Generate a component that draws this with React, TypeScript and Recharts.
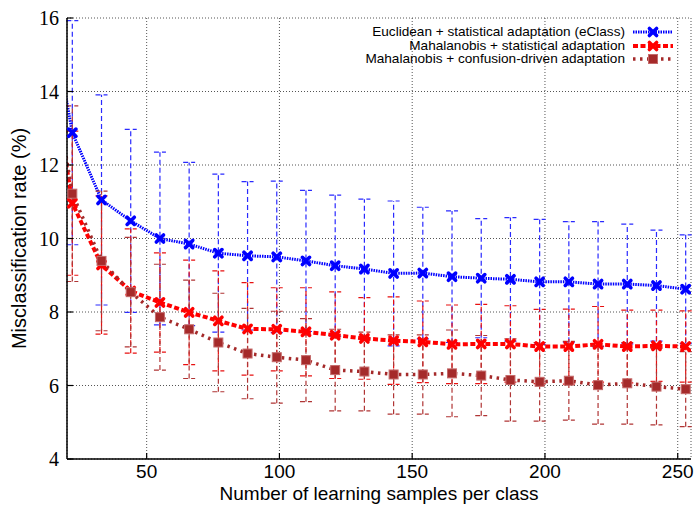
import React from 'react';
import { LineChart, Line, XAxis, YAxis, CartesianGrid, ErrorBar, Legend } from 'recharts';

const samples = [11, 22, 33, 44, 55, 66, 77, 88, 99, 110, 121, 132, 143, 154, 165, 176, 187, 198, 209, 220, 231, 242, 253];
const euclidRate = [17.3, 12.88, 11.05, 10.48, 10.0, 9.85, 9.6, 9.53, 9.5, 9.39, 9.26, 9.17, 9.05, 9.06, 8.96, 8.92, 8.89, 8.82, 8.82, 8.76, 8.76, 8.72, 8.62];
const euclidErr = [null, 3.05, 2.86, 2.49, 2.35, 2.22, 2.15, 2.02, 2.06, 1.92, 1.92, 1.9, 1.97, 1.79, 1.79, 1.62, 1.68, 1.7, 1.64, 1.7, 1.63, 1.51, 1.48];
const mahaStatRate = [16.1, 10.96, 9.28, 8.57, 8.26, 7.99, 7.76, 7.54, 7.53, 7.46, 7.37, 7.28, 7.22, 7.19, 7.12, 7.13, 7.13, 7.06, 7.06, 7.12, 7.06, 7.08, 7.06];
const mahaStatErr = [null, 1.96, 1.88, 1.69, 1.35, 1.42, 1.36, 1.26, 1.13, 1.2, 1.18, 1.11, 1.19, 1.11, 1.07, 1.08, 1.04, 1.01, 1.02, 1.03, 0.99, 0.97, 0.97];
const mahaConfRate = [16.0, 11.22, 9.39, 8.54, 7.86, 7.53, 7.17, 6.87, 6.77, 6.69, 6.42, 6.38, 6.3, 6.3, 6.33, 6.27, 6.15, 6.1, 6.13, 6.01, 6.06, 5.97, 5.9];
const mahaConfErr = [null, 2.39, 1.9, 1.49, 1.44, 1.34, 1.34, 1.23, 1.25, 1.13, 1.11, 1.07, 1.08, 1.08, 1.18, 1.09, 1.12, 1.07, 1.07, 1.06, 1.11, 1.04, 1.02];

const xTicks = [50, 100, 150, 200, 250];
const yTicks = [4, 6, 8, 10, 12, 14, 16];
const xDomain = [20, 255];
const yDomain = [4, 16];

const seriesNames = [
  'Euclidean + statistical adaptation (eClass)',
  'Mahalanobis + statistical adaptation',
  'Mahalanobis + confusion-driven adaptation',
];

const data = samples.map((s, i) => ({
  samples: s,
  euclid: euclidRate[i],
  euclidErr: euclidErr[i] ?? undefined,
  mahaStat: mahaStatRate[i],
  mahaStatErr: mahaStatErr[i] ?? undefined,
  mahaConf: mahaConfRate[i],
  mahaConfErr: mahaConfErr[i] ?? undefined,
}));

const BLUE = '#0000ff';
const RED = '#ff0000';
const BROWN = '#a52a2a';
const SANS = '"Liberation Sans", Arial, sans-serif';
const SERIF = '"Liberation Serif", "Times New Roman", serif';

const styles = {
  euclid: { color: BLUE, dash: '1.5 1', width: 3, marker: 'cross' },
  mahaStat: { color: RED, dash: '5 2.5', width: 4, marker: 'cross' },
  mahaConf: { color: BROWN, dash: '2.5 4.5', width: 3.5, marker: 'square' },
};

function Marker({ cx, cy, color, kind }: { cx: number; cy: number; color: string; kind: string }) {
  if (kind === 'square') {
    return <rect x={cx - 4.5} y={cy - 4.5} width={9} height={9} fill={color} stroke="#c46a6a" strokeWidth={1} />;
  }
  const r = 3.6;
  return (
    <g>
      <line x1={cx - r} y1={cy - r} x2={cx + r} y2={cy + r} stroke={color} strokeWidth={3.6} strokeLinecap="round" />
      <line x1={cx - r} y1={cy + r} x2={cx + r} y2={cy - r} stroke={color} strokeWidth={3.6} strokeLinecap="round" />
    </g>
  );
}

const makeDot = (color: string, kind: string) => (props: any) => {
  const { cx, cy, payload, index } = props;
  if (cx == null || cy == null || payload.samples < xDomain[0]) return <g key={`d-${index}`} />;
  return (
    <g key={`d-${index}`}>
      <Marker cx={cx} cy={cy} color={color} kind={kind} />
    </g>
  );
};

const renderLegend = () => {
  const keys = ['euclid', 'mahaStat', 'mahaConf'] as const;
  return (
    <div style={{ fontFamily: SANS, fontSize: 13.6, color: '#000' }}>
      {keys.map((k, i) => {
        const st = styles[k];
        return (
          <div key={k} style={{ display: 'flex', alignItems: 'center', justifyContent: 'flex-end', height: 13.8 }}>
            <span style={{ whiteSpace: 'nowrap', lineHeight: '13.6px' }}>{seriesNames[i]}</span>
            <svg width={40} height={14} style={{ marginLeft: 8, display: 'block' }}>
              <line x1={0} y1={7} x2={40} y2={7} stroke={st.color} strokeWidth={st.width} strokeDasharray={st.dash} />
              <Marker cx={20} cy={7} color={st.color} kind={st.marker} />
            </svg>
          </div>
        );
      })}
    </div>
  );
};

export default function App() {
  return (
    <div style={{ width: 696, height: 506, background: '#fff' }}>
      <style>{'body{margin:0;background:#fff}'}</style>
      <LineChart width={696} height={506} data={data} margin={{ top: 18, right: 5, bottom: 0, left: 0 }}>
        <CartesianGrid stroke="#555" strokeDasharray="1 2" strokeWidth={1} />
        <XAxis
          dataKey="samples"
          type="number"
          domain={xDomain}
          allowDataOverflow
          ticks={xTicks}
          interval={0}
          height={47}
          tickSize={-6}
          tickMargin={12}
          axisLine={{ stroke: '#000', strokeWidth: 1.5 }}
          tickLine={{ stroke: '#000', strokeWidth: 1.2 }}
          tick={{ fontFamily: SANS, fontSize: 19, fill: '#000' }}
          label={{ value: 'Number of learning samples per class', position: 'insideBottom', offset: 6, style: { fontFamily: SANS, fontSize: 19, fill: '#000' } }}
        />
        <XAxis
          xAxisId="top"
          orientation="top"
          dataKey="samples"
          type="number"
          domain={xDomain}
          allowDataOverflow
          ticks={xTicks}
          interval={0}
          height={0}
          tickSize={-6}
          tick={false}
          axisLine={{ stroke: '#000', strokeWidth: 1.5 }}
          tickLine={{ stroke: '#000', strokeWidth: 1.2 }}
        />
        <YAxis
          type="number"
          domain={yDomain}
          allowDataOverflow
          ticks={yTicks}
          interval={0}
          width={67}
          tickSize={-6}
          tickMargin={14}
          axisLine={{ stroke: '#000', strokeWidth: 1.5 }}
          tickLine={{ stroke: '#000', strokeWidth: 1.2 }}
          tick={{ fontFamily: SERIF, fontSize: 20, fill: '#000' }}
          label={{ value: 'Misclassification rate (%)', angle: -90, position: 'insideLeft', offset: 19, style: { fontFamily: SANS, fontSize: 20, fill: '#000', textAnchor: 'middle' } }}
        />
        <YAxis
          yAxisId="right"
          orientation="right"
          type="number"
          domain={yDomain}
          allowDataOverflow
          ticks={yTicks}
          interval={0}
          width={0}
          tickSize={-6}
          tick={false}
          axisLine={{ stroke: '#333', strokeWidth: 2.5 }}
          tickLine={{ stroke: '#000', strokeWidth: 1.2 }}
        />
        <Legend
          layout="vertical"
          align="center"
          verticalAlign="middle"
          content={renderLegend}
          wrapperStyle={{ position: 'absolute', top: 24.8, right: 23, left: 'auto', bottom: 'auto', width: 'auto' }}
        />
        <Line
          dataKey="euclid"
          name={seriesNames[0]}
          type="linear"
          stroke={BLUE}
          strokeWidth={styles.euclid.width}
          strokeDasharray={styles.euclid.dash}
          dot={makeDot(BLUE, 'cross')}
          activeDot={false}
          isAnimationActive={false}
        >
          <ErrorBar dataKey="euclidErr" width={6} stroke="#2a2aff" strokeWidth={1.2} strokeDasharray="5 3" isAnimationActive={false} />
        </Line>
        <Line
          dataKey="mahaStat"
          name={seriesNames[1]}
          type="linear"
          stroke={RED}
          strokeWidth={styles.mahaStat.width}
          strokeDasharray={styles.mahaStat.dash}
          dot={makeDot(RED, 'cross')}
          activeDot={false}
          isAnimationActive={false}
        >
          <ErrorBar dataKey="mahaStatErr" width={6} stroke="#e81010" strokeWidth={1.2} strokeDasharray="5 3" isAnimationActive={false} />
        </Line>
        <Line
          dataKey="mahaConf"
          name={seriesNames[2]}
          type="linear"
          stroke={BROWN}
          strokeWidth={styles.mahaConf.width}
          strokeDasharray={styles.mahaConf.dash}
          dot={makeDot(BROWN, 'square')}
          activeDot={false}
          isAnimationActive={false}
        >
          <ErrorBar dataKey="mahaConfErr" width={6} stroke="#b03535" strokeWidth={1.2} strokeDasharray="5 3" isAnimationActive={false} />
        </Line>
      </LineChart>
    </div>
  );
}
